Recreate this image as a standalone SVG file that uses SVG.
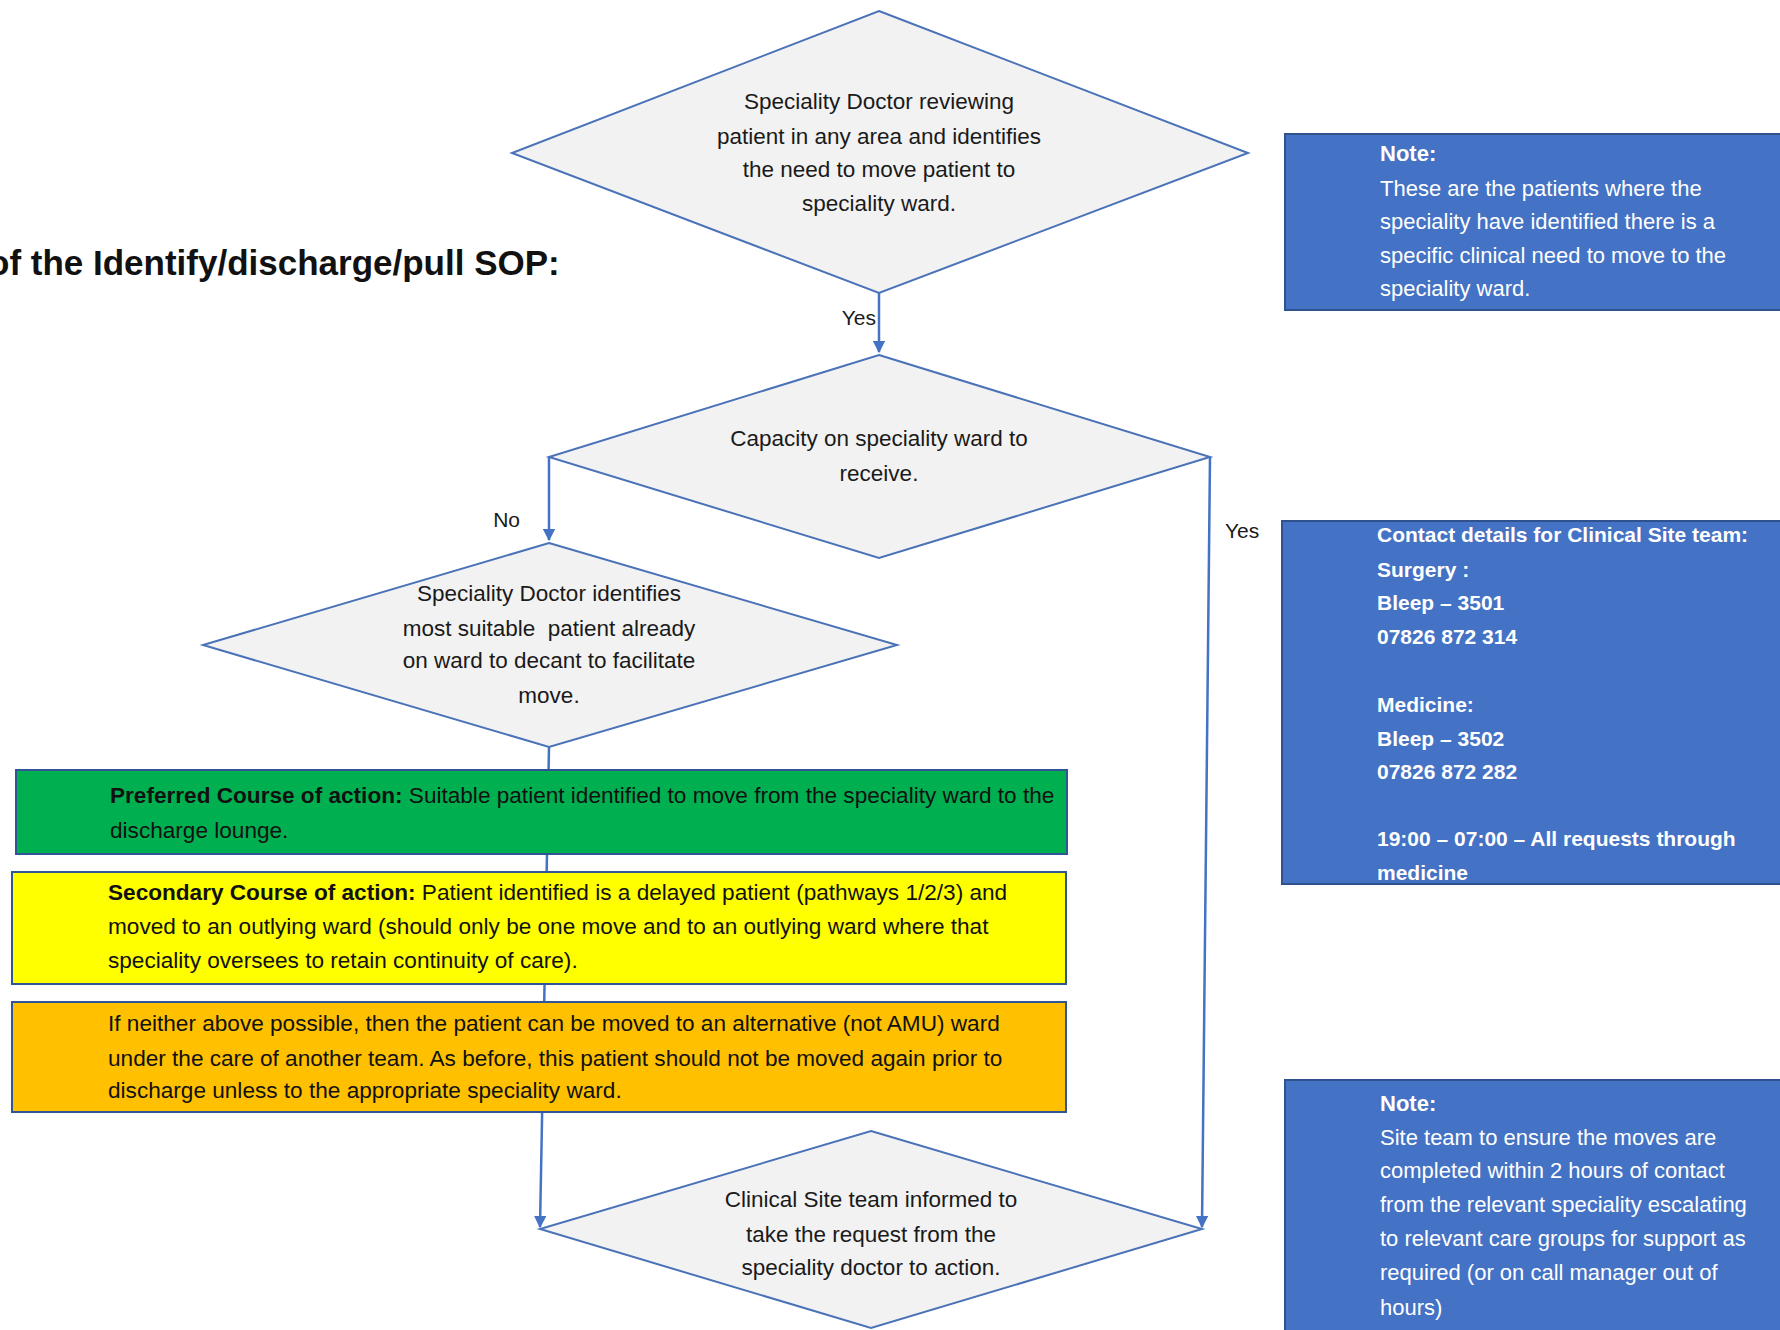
<svg xmlns="http://www.w3.org/2000/svg" width="1780" height="1330" viewBox="0 0 1780 1330">
<defs>
<marker id="arr" viewBox="0 0 10 10" refX="9" refY="5" markerWidth="5" markerHeight="5" orient="auto" markerUnits="strokeWidth">
<path d="M0,0 L10,5 L0,10 z" fill="#4472C4"/>
</marker>
<style>
.dia{fill:#F2F2F2;stroke:#4A72B8;stroke-width:2}
.t{font-family:"Liberation Sans",Arial,sans-serif;font-size:22.5px;fill:#1a1a1a}
.c{text-anchor:middle}
.bt{font-family:"Liberation Sans",Arial,sans-serif;font-size:22.6px;fill:#111}
.b{font-weight:bold}
.note{fill:#4472C4;stroke:#2F528F;stroke-width:2}
.nt{font-family:"Liberation Sans",Arial,sans-serif;font-size:22px;fill:#ffffff}
.ct{font-family:"Liberation Sans",Arial,sans-serif;font-size:21px;fill:#ffffff;font-weight:bold}
.conn{stroke:#4472C4;stroke-width:2.5;fill:none}
.box{stroke:#2F5597;stroke-width:2}
.lbl{font-family:"Liberation Sans",Arial,sans-serif;font-size:21px;fill:#1a1a1a}
</style>
</defs>
<rect width="1780" height="1330" fill="#ffffff"/>

<text x="-12" y="275" font-family="'Liberation Sans',Arial,sans-serif" font-size="35" font-weight="bold" fill="#111">of the Identify/discharge/pull SOP:</text>

<g id="connectors">
<line class="conn" x1="879" y1="293" x2="879" y2="352" marker-end="url(#arr)"/>
<polyline class="conn" points="549,457 549,540" marker-end="url(#arr)"/>
<line class="conn" x1="1210" y1="457" x2="1202" y2="1227" marker-end="url(#arr)"/>
<line class="conn" x1="549" y1="747" x2="540" y2="1227" marker-end="url(#arr)"/>
<text class="lbl" x="876" y="325" text-anchor="end">Yes</text>
<text class="lbl" x="520" y="527" text-anchor="end">No</text>
<text class="lbl" x="1225" y="538">Yes</text>
</g>

<g id="d1">
<polygon class="dia" points="879,11 1248,153 879,293 512,153"/>
<text class="t c" x="879" y="109">Speciality Doctor reviewing</text>
<text class="t c" x="879" y="144">patient in any area and identifies</text>
<text class="t c" x="879" y="177">the need to move patient to</text>
<text class="t c" x="879" y="211">speciality ward.</text>
</g>

<g id="d2">
<polygon class="dia" points="879,355 1210,457 879,558 549,457"/>
<text class="t c" x="879" y="446">Capacity on speciality ward to</text>
<text class="t c" x="879" y="481">receive.</text>
</g>

<g id="d3">
<polygon class="dia" points="549,543 897,645 549,747 203,645"/>
<text class="t c" x="549" y="601">Speciality Doctor identifies</text>
<text class="t c" x="549" y="636">most suitable&#160; patient already</text>
<text class="t c" x="549" y="668">on ward to decant to facilitate</text>
<text class="t c" x="549" y="703">move.</text>
</g>

<g id="green">
<rect class="box" x="16" y="770" width="1051" height="84" fill="#00B050"/>
<text class="bt" x="110" y="803"><tspan class="b">Preferred Course of action:</tspan> Suitable patient identified to move from the speciality ward to the</text>
<text class="bt" x="110" y="838">discharge lounge.</text>
</g>

<g id="yellow">
<rect class="box" x="12" y="872" width="1054" height="112" fill="#FFFF00"/>
<text class="bt" x="108" y="900"><tspan class="b">Secondary Course of action:</tspan> Patient identified is a delayed patient (pathways 1/2/3) and</text>
<text class="bt" x="108" y="934">moved to an outlying ward (should only be one move and to an outlying ward where that</text>
<text class="bt" x="108" y="968">speciality oversees to retain continuity of care).</text>
</g>

<g id="orange">
<rect class="box" x="12" y="1002" width="1054" height="110" fill="#FFC000"/>
<text class="bt" x="108" y="1031">If neither above possible, then the patient can be moved to an alternative (not AMU) ward</text>
<text class="bt" x="108" y="1066">under the care of another team. As before, this patient should not be moved again prior to</text>
<text class="bt" x="108" y="1098">discharge unless to the appropriate speciality ward.</text>
</g>

<g id="d4">
<polygon class="dia" points="871,1131 1202,1229 871,1328 540,1229"/>
<text class="t c" x="871" y="1207">Clinical Site team informed to</text>
<text class="t c" x="871" y="1242">take the request from the</text>
<text class="t c" x="871" y="1275">speciality doctor to action.</text>
</g>

<g id="note1">
<rect class="note" x="1285" y="134" width="500" height="176"/>
<text class="nt b" x="1380" y="161">Note:</text>
<text class="nt" x="1380" y="196">These are the patients where the</text>
<text class="nt" x="1380" y="229">speciality have identified there is a</text>
<text class="nt" x="1380" y="263">specific clinical need to move to the</text>
<text class="nt" x="1380" y="296">speciality ward.</text>
</g>

<g id="contact">
<rect class="note" x="1282" y="521" width="503" height="363"/>
<text class="ct" x="1377" y="542">Contact details for Clinical Site team:</text>
<text class="ct" x="1377" y="577">Surgery :</text>
<text class="ct" x="1377" y="610">Bleep – 3501</text>
<text class="ct" x="1377" y="644">07826 872 314</text>
<text class="ct" x="1377" y="712">Medicine:</text>
<text class="ct" x="1377" y="746">Bleep – 3502</text>
<text class="ct" x="1377" y="779">07826 872 282</text>
<text class="ct" x="1377" y="846">19:00 – 07:00 – All requests through</text>
<text class="ct" x="1377" y="880">medicine</text>
</g>

<g id="note2">
<rect class="note" x="1285" y="1080" width="500" height="260"/>
<text class="nt b" x="1380" y="1111">Note:</text>
<text class="nt" x="1380" y="1145">Site team to ensure the moves are</text>
<text class="nt" x="1380" y="1178">completed within 2 hours of contact</text>
<text class="nt" x="1380" y="1212">from the relevant speciality escalating</text>
<text class="nt" x="1380" y="1246">to relevant care groups for support as</text>
<text class="nt" x="1380" y="1280">required (or on call manager out of</text>
<text class="nt" x="1380" y="1315">hours)</text>
</g>
</svg>
